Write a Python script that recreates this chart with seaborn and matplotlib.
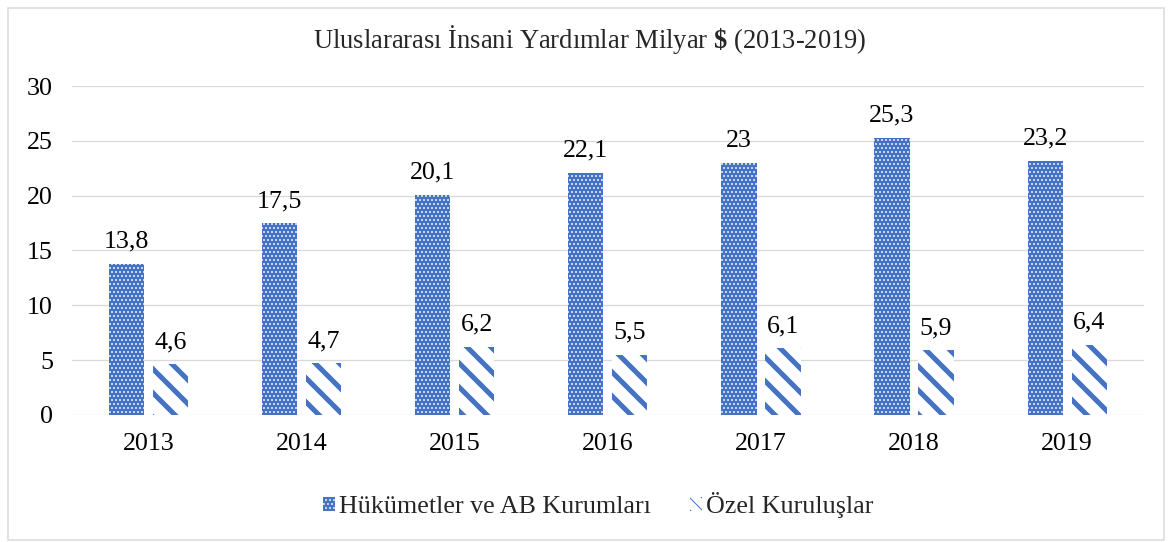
import pandas as pd
import matplotlib.pyplot as plt
import seaborn as sns
from matplotlib.patches import Patch, Rectangle

years = ["2013", "2014", "2015", "2016", "2017", "2018", "2019"]
hukumet = [13.8, 17.5, 20.1, 22.1, 23, 25.3, 23.2]
ozel = [4.6, 4.7, 6.2, 5.5, 6.1, 5.9, 6.4]
series_names = ["Hükümetler ve AB Kurumları", "Özel Kuruluşlar"]

df = pd.DataFrame({
    "yil": years * 2,
    "deger": hukumet + ozel,
    "seri": [series_names[0]] * len(years) + [series_names[1]] * len(years),
})

blue = "#4472C4"

sns.set_theme(style="white")
plt.rcParams["font.family"] = ["Liberation Serif", "DejaVu Serif"]
plt.rcParams["mathtext.fontset"] = "custom"
plt.rcParams["mathtext.rm"] = "Liberation Serif"
plt.rcParams["mathtext.bf"] = "Liberation Serif:bold"

# 72 dpi: one point is one pixel, and the hatch tile is 72 px
fig = plt.figure(figsize=(1173 / 72, 542 / 72), dpi=72)
ax = fig.add_axes([0.0614, 0.2345, 0.9136, 0.6068])

sns.barplot(data=df, x="yil", y="deger", hue="seri", width=0.575, gap=0.2,
            palette=[blue, "white"], legend=False, ax=ax)


def style_patch(p, face, hatch, hcolor, hlw):
    p.set_facecolor(face)
    p.set_edgecolor(hcolor)
    p.set_linewidth(0)
    p.set_hatch(hatch)
    if hasattr(p, "set_hatch_linewidth"):
        p.set_hatch_linewidth(hlw)


with plt.rc_context({"hatch.linewidth": 1.0}):
    for p in ax.containers[0]:
        style_patch(p, blue, "...", "white", 1.0)
with plt.rc_context({"hatch.linewidth": 5.0}):
    for p in ax.containers[1]:
        style_patch(p, "white", "\\", blue, 5.0)


def fmt(v):
    s = f"{v:.1f}"
    if s.endswith(".0"):
        s = s[:-2]
    return s.replace(".", ",")


for cont in ax.containers:
    ax.bar_label(cont, labels=[fmt(v) for v in cont.datavalues],
                 padding=11, fontsize=26, color="black")

ax.set_ylim(0, 30)
ax.set_yticks(range(0, 31, 5))
ax.set_xlim(-0.5, 6.5)
ax.yaxis.grid(True, color="#d9d9d9", linewidth=1.3)
ax.set_axisbelow(True)
for s in ax.spines.values():
    s.set_visible(False)
ax.tick_params(axis="both", labelsize=26, length=0, colors="black")
ax.tick_params(axis="y", pad=19)
ax.tick_params(axis="x", pad=18)
ax.set_xlabel("")
ax.set_ylabel("")

fig.text(0.503, 0.928,
         r"Uluslararası İnsani Yardımlar Milyar $\mathbf{\$}$ (2013-2019)",
         ha="center", va="center", fontsize=26.5)

with plt.rc_context({"hatch.linewidth": 1.0}):
    h1 = Patch(facecolor=blue, edgecolor="white", linewidth=0, hatch="...")
with plt.rc_context({"hatch.linewidth": 4.0}):
    h2 = Patch(facecolor="white", edgecolor=blue, linewidth=0, hatch="\\\\")
fig.legend(handles=[h1, h2], labels=series_names, loc="center",
           bbox_to_anchor=(0.51, 0.068), ncol=2, frameon=False,
           fontsize=26, handlelength=0.48, handleheight=0.48,
           handletextpad=0.15, columnspacing=1.5)

fig.patches.append(Rectangle((8 / 1173, 2 / 542), 1156 / 1173, 532 / 542,
                             transform=fig.transFigure, fill=False,
                             edgecolor="#d9d9d9", linewidth=1.5))

fig.savefig("out.png", dpi=72)
